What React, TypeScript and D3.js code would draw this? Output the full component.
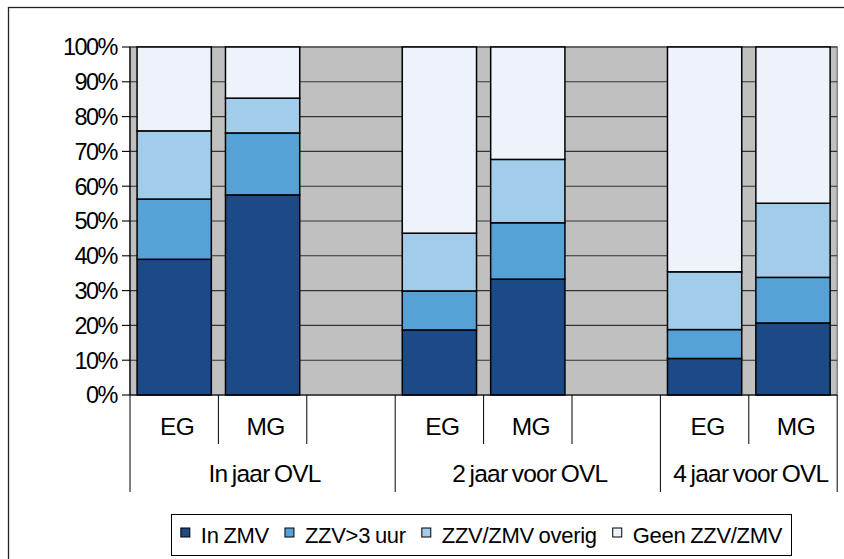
import React, { useEffect, useRef } from "react";
import * as d3 from "d3";

const groups = ["In jaar OVL", "2 jaar voor OVL", "4 jaar voor OVL"];
const groupSlots = [["EG", "MG", ""], ["EG", "MG", ""], ["EG", "MG"]];
const seriesNames = ["In ZMV", "ZZV>3 uur", "ZZV/ZMV overig", "Geen ZZV/ZMV"];
const seriesColors = ["#1B4A87", "#56A2D6", "#A1CCEA", "#EEF3FB"];
const inZMV = [39.0, 57.5, 18.7, 33.3, 10.5, 20.7];
const zzv3uur = [17.3, 17.8, 11.2, 16.2, 8.3, 13.1];
const zzvOverig = [19.6, 10.0, 16.6, 18.2, 16.6, 21.3];
const geenZZV = [24.1, 14.7, 53.5, 32.3, 64.6, 44.9];
const yTicks = [0, 10, 20, 30, 40, 50, 60, 70, 80, 90, 100];

const W = 844;
const H = 559;
const FONT = "'Liberation Sans', Arial, sans-serif";

export default function App() {
  const ref = useRef<SVGSVGElement | null>(null);

  useEffect(() => {
    const svg = d3.select(ref.current);
    svg.selectAll("*").remove();

    const left = 130, right = 837.2, top = 47, bottom = 395;

    const slots: { key: string; group: number; label: string }[] = [];
    groupSlots.forEach((g, gi) => g.forEach((lab, li) => slots.push({ key: `${gi}-${li}`, group: gi, label: lab })));
    const x = d3.scaleBand<string>().domain(slots.map((s) => s.key)).range([left, right]).paddingInner(0.16).paddingOuter(0.08);
    const y = d3.scaleLinear().domain([0, 100]).range([bottom, top]);
    const step = x.step();

    // outer border (only top & left visible)
    svg.append("rect").attr("x", 8.5).attr("y", 7.5).attr("width", 900).attr("height", 700)
      .attr("fill", "white").attr("stroke", "#222").attr("stroke-width", 1.3);

    // plot area
    svg.append("rect").attr("x", left).attr("y", top).attr("width", right - left).attr("height", bottom - top)
      .attr("fill", "#C0C0C0").attr("stroke", "#808080").attr("stroke-width", 1.5);

    // gridlines
    svg.append("g").selectAll("line").data(yTicks.slice(1)).join("line")
      .attr("x1", left).attr("x2", right).attr("y1", (d) => y(d)).attr("y2", (d) => y(d))
      .attr("stroke", "#333").attr("stroke-width", 1.1);

    // stacked bars
    const barSlots = slots.filter((s) => s.label !== "");
    const rows = barSlots.map((s, i) => ({
      key: s.key,
      s0: inZMV[i], s1: zzv3uur[i], s2: zzvOverig[i], s3: geenZZV[i],
    }));
    const stack = d3.stack<any>().keys(["s0", "s1", "s2", "s3"]);
    const stacked = stack(rows);
    stacked.forEach((layer, li) => {
      svg.append("g").selectAll("rect").data(layer).join("rect")
        .attr("x", (d: any) => x(d.data.key)!)
        .attr("width", x.bandwidth())
        .attr("y", (d: any) => y(d[1]))
        .attr("height", (d: any) => y(d[0]) - y(d[1]))
        .attr("fill", seriesColors[li])
        .attr("stroke", "#000").attr("stroke-width", 1.5);
    });

    // y axis
    svg.append("line").attr("x1", left).attr("x2", left).attr("y1", top).attr("y2", bottom)
      .attr("stroke", "#000").attr("stroke-width", 1.2);
    const yg = svg.append("g");
    yTicks.forEach((t) => {
      yg.append("line").attr("x1", left - 8).attr("x2", left).attr("y1", y(t)).attr("y2", y(t))
        .attr("stroke", "#000").attr("stroke-width", 1.1);
      yg.append("text").attr("x", 117).attr("y", y(t)).attr("dy", "0.36em")
        .attr("text-anchor", "end").attr("font-family", FONT).attr("font-size", 23.5)
        .attr("letter-spacing", -1.5).text(`${t}%`);
    });

    // x axis
    svg.append("line").attr("x1", left).attr("x2", right).attr("y1", bottom).attr("y2", bottom)
      .attr("stroke", "#000").attr("stroke-width", 1.2);
    const groupStarts: number[] = [];
    let idx = 0;
    groupSlots.forEach((g) => { groupStarts.push(idx); idx += g.length; });
    const nSlots = slots.length;
    for (let b = 0; b <= nSlots; b++) {
      const bx = left + b * step;
      const isGroup = groupStarts.includes(b) || b === nSlots;
      svg.append("line").attr("x1", bx).attr("x2", bx).attr("y1", bottom).attr("y2", isGroup ? 492 : 444)
        .attr("stroke", "#000").attr("stroke-width", 1);
    }
    slots.forEach((s) => {
      if (!s.label) return;
      svg.append("text").attr("x", x(s.key)! + x.bandwidth() / 2 + 3).attr("y", 435)
        .attr("text-anchor", "middle").attr("font-family", FONT).attr("font-size", 24.5)
        .attr("letter-spacing", -0.6).text(s.label);
    });
    groups.forEach((g, gi) => {
      const x0 = left + groupStarts[gi] * step;
      const x1 = left + (groupStarts[gi] + groupSlots[gi].length) * step;
      svg.append("text").attr("x", (x0 + x1) / 2 + 2).attr("y", 482)
        .attr("text-anchor", "middle").attr("font-family", FONT).attr("font-size", 24.5)
        .attr("letter-spacing", -0.8).attr("word-spacing", -1.5).text(g);
    });

    // legend
    const lg = svg.append("g");
    lg.append("rect").attr("x", 171.5).attr("y", 514.5).attr("width", 620).attr("height", 41)
      .attr("fill", "white").attr("stroke", "#000").attr("stroke-width", 1);
    const items = lg.append("g");
    let cx = 0;
    seriesNames.forEach((name, i) => {
      items.append("rect").attr("x", cx).attr("y", 528).attr("width", 9).attr("height", 9)
        .attr("fill", seriesColors[i]).attr("stroke", "#000").attr("stroke-width", 1);
      const t = items.append("text").attr("x", cx + 20).attr("y", 543)
        .attr("font-family", FONT).attr("font-size", 22).attr("letter-spacing", -0.3)
        .attr("word-spacing", -1).text(name);
      const w = (t.node() as SVGTextElement).getComputedTextLength();
      cx += 20 + w + 16;
    });
    const totalW = cx - 16;
    items.attr("transform", `translate(${171.5 + (620 - totalW) / 2},0)`);
  }, []);

  return (
    <svg ref={ref} width={W} height={H} style={{ position: "absolute", left: 0, top: 0, background: "white" }} />
  );
}
